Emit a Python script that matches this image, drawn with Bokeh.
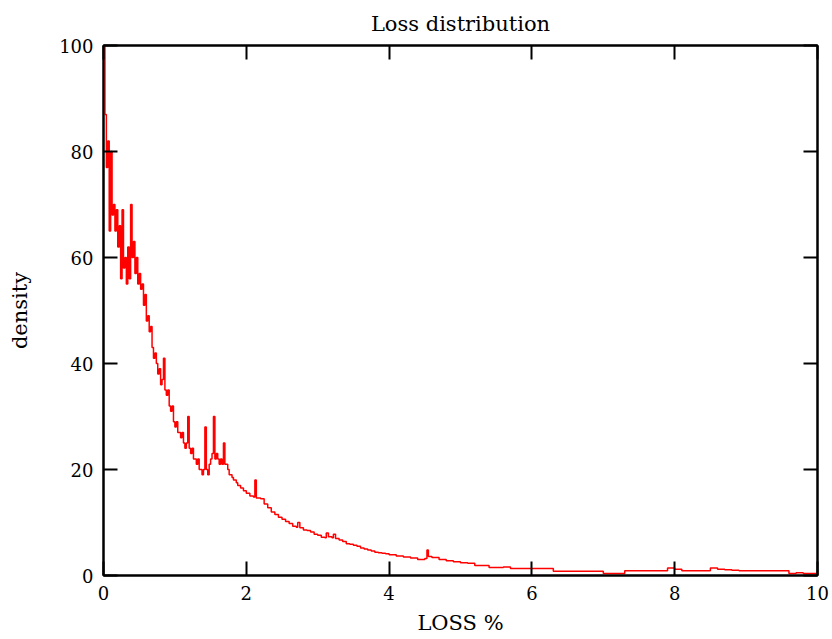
from bokeh.plotting import figure
from bokeh.models import Range1d, FixedTicker, LinearAxis
from bokeh.embed import file_html
from bokeh.resources import INLINE

title_text = "Loss distribution"
x_label = "LOSS %"
y_label = "density"
x_ticks = [0, 2, 4, 6, 8, 10]
y_ticks = [0, 20, 40, 60, 80, 100]

loss_pct = [
    0.00, 0.02, 0.04, 0.06, 0.08, 0.10, 0.12, 0.14, 0.16, 0.18,
    0.20, 0.22, 0.24, 0.26, 0.28, 0.30, 0.32, 0.34, 0.36, 0.38,
    0.40, 0.42, 0.44, 0.46, 0.48, 0.50, 0.52, 0.54, 0.56, 0.58,
    0.60, 0.62, 0.64, 0.66, 0.68, 0.70, 0.72, 0.74, 0.76, 0.78,
    0.80, 0.82, 0.84, 0.86, 0.88, 0.90, 0.92, 0.94, 0.96, 0.98,
    1.00, 1.02, 1.04, 1.06, 1.08, 1.10, 1.12, 1.14, 1.16, 1.18,
    1.20, 1.22, 1.24, 1.26, 1.28, 1.30, 1.32, 1.34, 1.36, 1.38,
    1.40, 1.42, 1.44, 1.46, 1.48, 1.50, 1.52, 1.54, 1.56, 1.58,
    1.60, 1.62, 1.64, 1.66, 1.68, 1.70, 1.72, 1.74, 1.76, 1.78,
    1.80, 1.82, 1.84, 1.86, 1.88, 1.90, 1.92, 1.94, 1.96, 1.98,
    2.00, 2.05, 2.10, 2.12, 2.14, 2.20, 2.25, 2.30, 2.35, 2.40,
    2.45, 2.50, 2.55, 2.60, 2.65, 2.70, 2.72, 2.75, 2.80, 2.85,
    2.90, 2.95, 3.00, 3.05, 3.10, 3.12, 3.15, 3.20, 3.22, 3.25,
    3.30, 3.35, 3.40, 3.45, 3.50, 3.55, 3.60, 3.65, 3.70, 3.75,
    3.80, 3.85, 3.90, 3.95,
    4.00, 4.10, 4.20, 4.30, 4.40, 4.50, 4.53, 4.55, 4.60, 4.70,
    4.80, 4.90, 5.00, 5.10, 5.20, 5.30, 5.40, 5.50, 5.60, 5.70,
    5.80, 5.90, 6.00, 6.10, 6.20, 6.30, 6.40, 6.50, 6.60, 6.70,
    6.80, 6.90, 7.00, 7.10, 7.20, 7.30, 7.40, 7.50, 7.60, 7.70,
    7.80, 7.90, 8.00, 8.10, 8.20, 8.30, 8.40, 8.50, 8.60, 8.70,
    8.80, 8.90, 9.00, 9.10, 9.20, 9.30, 9.40, 9.50, 9.60, 9.70,
    9.80, 9.90, 10.00,
]

density = [
    100, 87, 77, 82, 65, 80, 68, 70, 65, 69,
    62, 66, 56, 69, 58, 60, 55, 62, 56, 70,
    60, 63, 57, 60, 55, 57, 54, 55, 51, 53,
    48, 49, 46, 47, 43, 41, 42, 40, 38, 39,
    36, 37, 41, 35, 34, 35, 32, 31, 32, 29,
    28, 29, 27, 27, 26, 27, 25, 24, 25, 30,
    24, 23, 24, 22, 22, 21, 22, 20, 20, 19,
    20, 28, 20, 19, 21, 22, 23, 30, 22, 23,
    22, 21, 22, 21, 25, 21, 21, 20, 19, 19,
    18.5, 18, 18, 17.5, 17, 17, 16.5, 16.5, 16, 16,
    15.5, 15, 14.8, 18, 14.6, 14.5, 13.5, 12.8, 12, 11.5,
    11, 10.6, 10.2, 9.8, 9.3, 9.1, 10, 9, 8.6, 8.5,
    8.2, 7.8, 7.6, 7.2, 7.1, 8, 7.3, 7.1, 7.8, 7,
    6.7, 6.4, 6, 5.9, 5.7, 5.5, 5.2, 5, 4.8, 4.6,
    4.4, 4.3, 4.2, 4.1,
    3.9, 3.7, 3.5, 3.3, 3.0, 3.2, 4.8, 3.6, 3.4, 3.0,
    2.8, 2.6, 2.4, 2.3, 1.9, 1.9, 1.5, 1.5, 1.6, 1.3,
    1.3, 1.3, 1.3, 1.3, 1.3, 0.8, 0.8, 0.8, 0.8, 0.8,
    0.8, 0.8, 0.4, 0.4, 0.4, 0.9, 0.9, 0.9, 0.9, 0.9,
    0.9, 1.4, 1.2, 0.9, 0.9, 0.9, 0.9, 1.4, 1.2, 1.1,
    1.0, 0.9, 0.9, 0.9, 0.9, 0.9, 0.9, 0.9, 0.4, 0.5,
    0.4, 0.4, 0.4,
]

SERIF = "DejaVu Serif"

p = figure(width=832, height=639, output_backend="svg", toolbar_location=None,
           x_range=Range1d(0, 10), y_range=Range1d(0, 100),
           min_border_left=103, min_border_right=15,
           min_border_top=45, min_border_bottom=64,
           title=title_text, x_axis_label=x_label, y_axis_label=y_label)

bottom_ax = p.below[0]
left_ax = p.left[0]

p.background_fill_color = "white"
p.border_fill_color = "white"
p.xgrid.visible = False
p.ygrid.visible = False
p.outline_line_color = "black"
p.outline_line_width = 2

p.step(loss_pct, density, mode="after", line_color="#ff0000", line_width=1.5)

p.title.text_font = SERIF
p.title.text_font_size = "21px"
p.title.text_font_style = "normal"
p.title.align = "center"
p.title.text_color = "black"
p.title.standoff = 19

top_ax = LinearAxis(major_label_overrides={t: "" for t in x_ticks})
right_ax = LinearAxis(major_label_overrides={t: "" for t in y_ticks})
p.add_layout(top_ax, "above")
p.add_layout(right_ax, "right")


def style(ax, ticks):
    ax.ticker = FixedTicker(ticks=ticks)
    ax.major_tick_in = 14
    ax.major_tick_out = 0
    ax.minor_tick_line_color = None
    ax.axis_line_width = 2
    ax.axis_line_color = "black"
    ax.major_tick_line_width = 2
    ax.major_tick_line_color = "black"
    ax.major_label_text_font = SERIF
    ax.major_label_text_font_size = "18px"
    ax.major_label_text_color = "black"
    ax.axis_label_text_font = SERIF
    ax.axis_label_text_font_size = "21px"
    ax.axis_label_text_font_style = "normal"
    ax.axis_label_text_color = "black"


style(bottom_ax, x_ticks)
style(left_ax, y_ticks)
style(top_ax, x_ticks)
style(right_ax, y_ticks)
bottom_ax.major_label_standoff = 10
left_ax.major_label_standoff = 10
bottom_ax.axis_label_standoff = 8
left_ax.axis_label_standoff = 24

open("out.html", "w").write(file_html(p, INLINE))
